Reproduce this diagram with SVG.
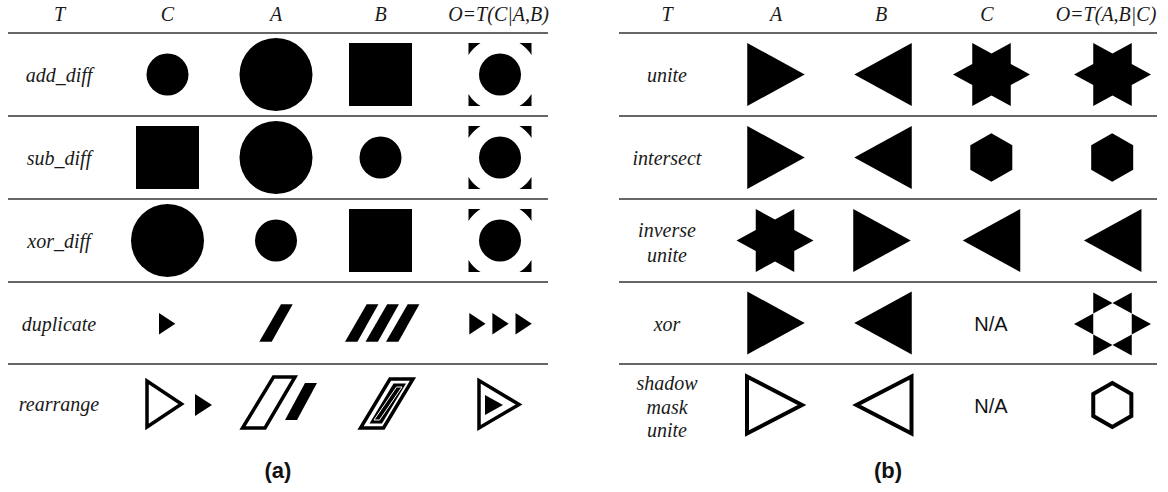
<svg xmlns="http://www.w3.org/2000/svg" xmlns:xlink="http://www.w3.org/1999/xlink" width="1168" height="492" viewBox="0 0 1168 492">
<style>
.lbl{font-family:'Liberation Serif','DejaVu Serif',serif;font-style:italic;font-size:20px;fill:#1a1a1a;text-anchor:middle}
.na{font-family:'Liberation Sans',Arial,sans-serif;font-size:20px;fill:#111;text-anchor:middle}
.cap{font-family:'Liberation Sans',Arial,sans-serif;font-weight:bold;font-size:22px;fill:#111;text-anchor:middle}
.rule{stroke:#333;stroke-width:1.5;fill:none}
.blk{fill:#000}
.out{fill:none;stroke:#000;stroke-width:4;stroke-linejoin:miter}
.outl{fill:none;stroke:#000;stroke-width:3.5;stroke-linejoin:miter}
</style>
<defs>
<g id="odiff">
<path class="blk" d="M31.5,19.41V31.5H19.41A37,37 0 0 0 31.5,19.41Z M-31.5,19.41V31.5H-19.41A37,37 0 0 1 -31.5,19.41Z M31.5,-19.41V-31.5H19.41A37,37 0 0 1 31.5,-19.41Z M-31.5,-19.41V-31.5H-19.41A37,37 0 0 0 -31.5,-19.41Z"/>
<circle class="blk" cx="0" cy="0" r="21"/>
</g>
<path id="triR" d="M-28.75-31.5V31.5L28.75,0Z"/>
<path id="triL" d="M28.75-31.5V31.5L-28.75,0Z"/>
<path id="star" d="M-19.25-31.5L0-21L19.25-31.5V-10.5L38.5,0L19.25,10.5V31.5L0,21L-19.25,31.5V10.5L-38.5,0L-19.25-10.5Z"/>
<path id="hex" d="M0-24.3L21-12.15V12.15L0,24.3L-21,12.15V-12.15Z"/>
<path id="xorshape" d="M-19.25-31.5L0-21L-19.25-10.5Z M19.25-31.5L0-21L19.25-10.5Z M-19.25,31.5L0,21L-19.25,10.5Z M19.25,31.5L0,21L19.25,10.5Z M19.25-10.5L38.5,0L19.25,10.5Z M-19.25-10.5L-38.5,0L-19.25,10.5Z"/>
<path id="smallTri" d="M0,0V21.5L16.3,10.75Z"/>
<path id="slash" d="M21.7,0H33.4L12.4,37.4H0Z"/>
</defs>

<g id="connectors">
<line class="rule" x1="8" y1="33" x2="548" y2="33"/>
<line class="rule" x1="8" y1="116" x2="548" y2="116"/>
<line class="rule" x1="8" y1="199" x2="548" y2="199"/>
<line class="rule" x1="8" y1="282" x2="548" y2="282"/>
<line class="rule" x1="8" y1="364" x2="548" y2="364"/>
<line class="rule" x1="619" y1="33" x2="1157" y2="33"/>
<line class="rule" x1="619" y1="116" x2="1157" y2="116"/>
<line class="rule" x1="619" y1="199" x2="1157" y2="199"/>
<line class="rule" x1="619" y1="282" x2="1157" y2="282"/>
<line class="rule" x1="619" y1="364" x2="1157" y2="364"/>
</g>

<g id="panel-a">
<g id="a-header">
<text class="lbl" x="59.5" y="21">T</text>
<text class="lbl" x="167.5" y="21">C</text>
<text class="lbl" x="276" y="21">A</text>
<text class="lbl" x="380.5" y="21">B</text>
<text class="lbl" x="498.5" y="21">O=T(C|A,B)</text>
</g>
<g id="a-row-add">
<text class="lbl" x="59" y="82">add_diff</text>
<circle class="blk" cx="167.5" cy="74.5" r="21"/>
<circle class="blk" cx="276" cy="74.5" r="36.5"/>
<rect class="blk" x="349" y="43" width="63" height="63"/>
<use xlink:href="#odiff" href="#odiff" transform="translate(500,74.5)"/>
</g>
<g id="a-row-sub">
<text class="lbl" x="59" y="165">sub_diff</text>
<rect class="blk" x="136" y="126" width="63" height="63"/>
<circle class="blk" cx="276" cy="157.5" r="36.5"/>
<circle class="blk" cx="380.5" cy="157.5" r="21"/>
<use xlink:href="#odiff" href="#odiff" transform="translate(500,157.5)"/>
</g>
<g id="a-row-xor">
<text class="lbl" x="59" y="248">xor_diff</text>
<circle class="blk" cx="167.5" cy="240.5" r="36.5"/>
<circle class="blk" cx="276" cy="240.5" r="21"/>
<rect class="blk" x="349" y="209" width="63" height="63"/>
<use xlink:href="#odiff" href="#odiff" transform="translate(500,240.5)"/>
</g>
<g id="a-row-dup">
<text class="lbl" x="59" y="331">duplicate</text>
<use class="blk" xlink:href="#smallTri" href="#smallTri" transform="translate(159,313)"/>
<use class="blk" xlink:href="#slash" href="#slash" transform="translate(259.3,304.3)"/>
<use class="blk" xlink:href="#slash" href="#slash" transform="translate(345,304.3)"/>
<use class="blk" xlink:href="#slash" href="#slash" transform="translate(365.5,304.3)"/>
<use class="blk" xlink:href="#slash" href="#slash" transform="translate(386,304.3)"/>
<use class="blk" xlink:href="#smallTri" href="#smallTri" transform="translate(469.3,313)"/>
<use class="blk" xlink:href="#smallTri" href="#smallTri" transform="translate(492.4,313)"/>
<use class="blk" xlink:href="#smallTri" href="#smallTri" transform="translate(515.5,313)"/>
</g>
<g id="a-row-rearrange">
<text class="lbl" x="59" y="411">rearrange</text>
<path class="outl" d="M147,381V427L181.5,404Z"/>
<path class="blk" d="M195,394V416L212,405Z"/>
<path class="outl" d="M273.5,377H295L265,428H242.5Z"/>
<path class="blk" d="M305,383H317L297,420H285Z"/>
<path class="outl" d="M390,379H413L383.5,428H360.5Z"/>
<path class="blk" d="M393.5,383.5H406L382,423.5H369.5Z"/>
<path fill="none" stroke="#fff" stroke-width="1" d="M396.5,387H402L379.5,420H374Z"/>
<path class="outl" d="M479,380.5V428L519,404.5Z"/>
<path class="blk" d="M485,395V415L503,405Z"/>
</g>
<text id="cap-a" class="cap" x="278" y="478">(a)</text>
</g>

<g id="panel-b">
<g id="b-header">
<text class="lbl" x="667" y="21">T</text>
<text class="lbl" x="776" y="21">A</text>
<text class="lbl" x="881" y="21">B</text>
<text class="lbl" x="987" y="21">C</text>
<text class="lbl" x="1106" y="21">O=T(A,B|C)</text>
</g>
<g id="b-row-unite">
<text class="lbl" x="667" y="82">unite</text>
<use class="blk" xlink:href="#triR" href="#triR" transform="translate(776,74.5)"/>
<use class="blk" xlink:href="#triL" href="#triL" transform="translate(883,74.5)"/>
<use class="blk" xlink:href="#star" href="#star" transform="translate(991.5,74.5)"/>
<use class="blk" xlink:href="#star" href="#star" transform="translate(1112.5,74.5)"/>
</g>
<g id="b-row-intersect">
<text class="lbl" x="667" y="165">intersect</text>
<use class="blk" xlink:href="#triR" href="#triR" transform="translate(776,157.5)"/>
<use class="blk" xlink:href="#triL" href="#triL" transform="translate(883,157.5)"/>
<use class="blk" xlink:href="#hex" href="#hex" transform="translate(991.3,157.5)"/>
<use class="blk" xlink:href="#hex" href="#hex" transform="translate(1112.2,157.5)"/>
</g>
<g id="b-row-inverse">
<text class="lbl" x="667" y="236.5">inverse</text>
<text class="lbl" x="667" y="261.5">unite</text>
<use class="blk" xlink:href="#star" href="#star" transform="translate(775,240.5)"/>
<use class="blk" xlink:href="#triR" href="#triR" transform="translate(882,240.5)"/>
<use class="blk" xlink:href="#triL" href="#triL" transform="translate(991.5,240.5)"/>
<use class="blk" xlink:href="#triL" href="#triL" transform="translate(1112.7,240.5)"/>
</g>
<g id="b-row-xor">
<text class="lbl" x="667" y="331">xor</text>
<use class="blk" xlink:href="#triR" href="#triR" transform="translate(776,323)"/>
<use class="blk" xlink:href="#triL" href="#triL" transform="translate(883,323)"/>
<text class="na" x="991" y="330.5">N/A</text>
<use class="blk" xlink:href="#xorshape" href="#xorshape" transform="translate(1112.5,324)"/>
</g>
<g id="b-row-shadow">
<text class="lbl" x="667" y="390">shadow</text>
<text class="lbl" x="667" y="413.5">mask</text>
<text class="lbl" x="667" y="437">unite</text>
<path class="out" d="M747,376.5V433.5L802,405Z"/>
<path class="out" d="M911.5,376.5V433.5L856.5,405Z"/>
<text class="na" x="991" y="413">N/A</text>
<path class="out" d="M1112.3,383L1131.35,394V416L1112.3,427L1093.25,416V394Z"/>
</g>
<text id="cap-b" class="cap" x="888" y="478">(b)</text>
</g>
</svg>
